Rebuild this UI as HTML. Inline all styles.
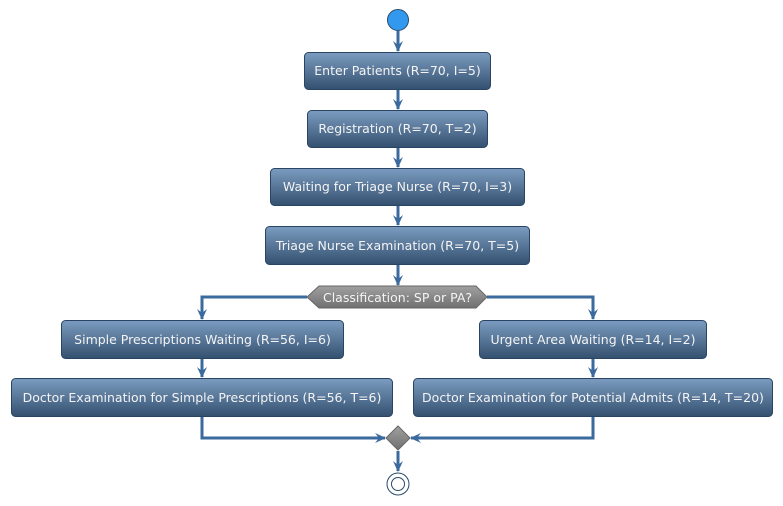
<!DOCTYPE html>
<html><head><meta charset="utf-8"><style>html,body{margin:0;padding:0;background:#fff}svg{display:block}</style></head><body>
<svg width="783" height="506" xmlns="http://www.w3.org/2000/svg" font-family="DejaVu Sans, Liberation Sans, sans-serif" font-size="12.5">
<defs>
<linearGradient id="g" x1="0" y1="0" x2="0" y2="1"><stop offset="0" stop-color="#7b9cc0"/><stop offset="1" stop-color="#34506f"/></linearGradient>
<linearGradient id="gr" x1="0" y1="0" x2="0" y2="1"><stop offset="0" stop-color="#a0a0a0"/><stop offset="1" stop-color="#707070"/></linearGradient>
<marker id="a" viewBox="0 0 10 10" refX="5" refY="10" markerWidth="10" markerHeight="10" orient="auto-start-reverse" markerUnits="userSpaceOnUse"><path d="M0,0 L5,10 L10,0 L5,4 Z" fill="#3a6a9e"/></marker>
</defs>
<g stroke="#3a6a9e" stroke-width="3" fill="none">
<line x1="398" y1="31" x2="398" y2="51"/>
<line x1="398" y1="89" x2="398" y2="109"/>
<line x1="398" y1="147" x2="398" y2="167"/>
<line x1="398" y1="205" x2="398" y2="225"/>
<line x1="398" y1="264" x2="398" y2="285"/>
<polyline points="307,297 202,297 202,319"/>
<polyline points="487,297 593,297 593,319"/>
<line x1="202" y1="358" x2="202" y2="377"/>
<line x1="593" y1="358" x2="593" y2="377"/>
<polyline points="202,416 202,438 385,438"/>
<polyline points="593,416 593,438 411,438"/>
<line x1="398" y1="451" x2="398" y2="471"/>
</g>
<g fill="#3a6a9e">
<path d="M393,41 L398,52 L403,41 L398,45Z"/><path d="M393,99 L398,110 L403,99 L398,103Z"/><path d="M393,157 L398,168 L403,157 L398,161Z"/><path d="M393,215 L398,226 L403,215 L398,219Z"/><path d="M393,275 L398,286 L403,275 L398,279Z"/>
<path d="M197,309 L202,320 L207,309 L202,313Z"/><path d="M588,309 L593,320 L598,309 L593,313Z"/>
<path d="M197,367 L202,378 L207,367 L202,371Z"/><path d="M588,367 L593,378 L598,367 L593,371Z"/>
<path d="M375,433 L386,438 L375,443 L379,438Z"/><path d="M421,433 L410,438 L421,443 L417,438Z"/>
<path d="M393,461 L398,472 L403,461 L398,465Z"/>
</g>
<circle cx="398" cy="20" r="10.5" fill="#3399ee" stroke="#2a4a6a" stroke-width="1"/>
<g stroke="#2a4563" stroke-width="1" fill="url(#g)">
<rect x="304.5" y="52.5" width="186" height="37" rx="4"/>
<rect x="307.5" y="110.5" width="180" height="37" rx="4"/>
<rect x="270.5" y="168.5" width="254" height="37" rx="4"/>
<rect x="265.5" y="226.5" width="264" height="38" rx="4"/>
<rect x="61.5" y="320.5" width="282" height="38" rx="4"/>
<rect x="11.5" y="378.5" width="381" height="38" rx="4"/>
<rect x="479.5" y="320.5" width="227" height="38" rx="4"/>
<rect x="413.5" y="378.5" width="359" height="38" rx="4"/>
</g>
<polygon points="319,286 476,286 487,297 476,308 319,308 307,297" fill="url(#gr)" stroke="#666" stroke-width="1"/>
<polygon points="398,426 410,438 398,450 386,438" fill="url(#gr)" stroke="#666" stroke-width="1"/>
<circle cx="398" cy="484" r="11" fill="#fff" stroke="#2a4a6a" stroke-width="1"/>
<circle cx="398" cy="484" r="6.5" fill="#fff" stroke="#2a4a6a" stroke-width="1"/>
<g fill="#f4f4f4" text-anchor="middle">
<text x="397.5" y="75">Enter Patients (R=70, I=5)</text>
<text x="397.5" y="133">Registration (R=70, T=2)</text>
<text x="397.5" y="191">Waiting for Triage Nurse (R=70, I=3)</text>
<text x="397.5" y="250">Triage Nurse Examination (R=70, T=5)</text>
<text x="397.5" y="302">Classification: SP or PA?</text>
<text x="202.5" y="344">Simple Prescriptions Waiting (R=56, I=6)</text>
<text x="202" y="402">Doctor Examination for Simple Prescriptions (R=56, T=6)</text>
<text x="593" y="344">Urgent Area Waiting (R=14, I=2)</text>
<text x="593" y="402">Doctor Examination for Potential Admits (R=14, T=20)</text>
</g>
</svg>
</body></html>
